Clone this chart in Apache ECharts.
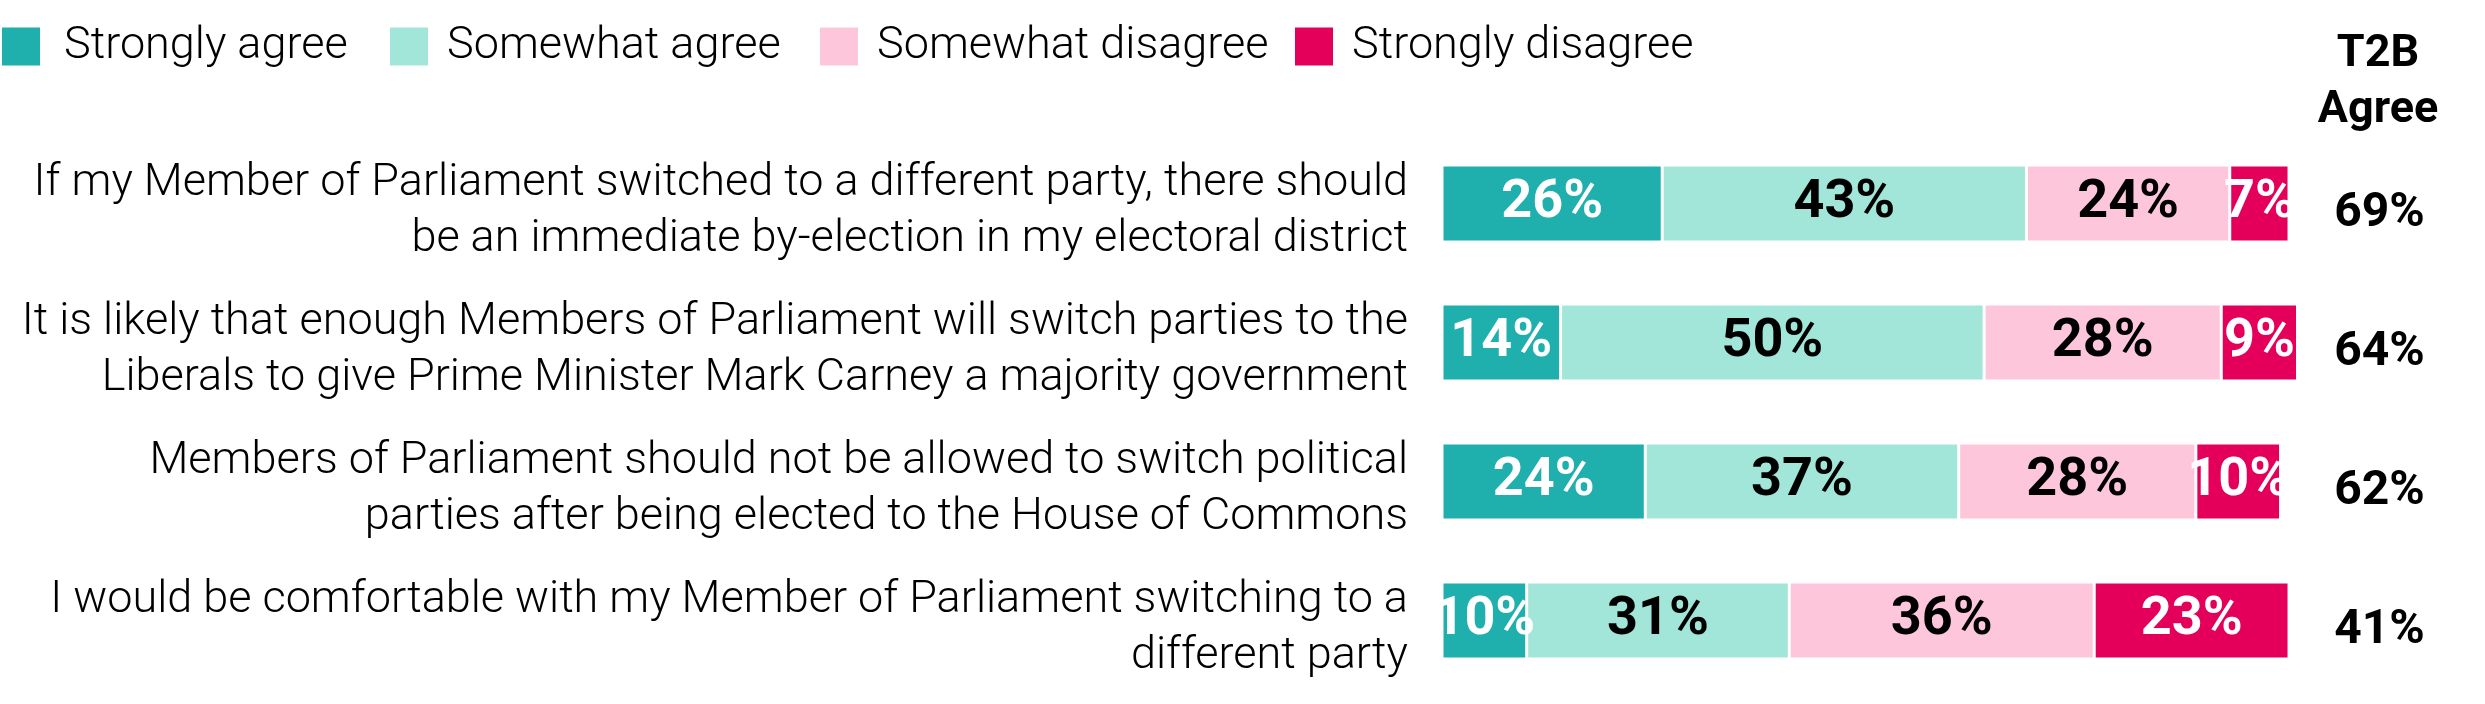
<!DOCTYPE html>
<html>
<head>
<meta charset="utf-8">
<script src="https://cdn.jsdelivr.net/npm/echarts@6/dist/echarts.min.js"></script>
<style>
  html, body { margin: 0; padding: 0; background: #fff; }
  #chart { width: 2485px; height: 704px; }
</style>
</head>
<body>
<div id="chart"></div>
<script>
// statements, top to bottom
const statements = [
  'If my Member of Parliament switched to a different party, there should\nbe an immediate by-election in my electoral district',
  'It is likely that enough Members of Parliament will switch parties to the\nLiberals to give Prime Minister Mark Carney a majority government',
  'Members of Parliament should not be allowed to switch political\nparties after being elected to the House of Commons',
  'I would be comfortable with my Member of Parliament switching to a\ndifferent party'
];

const stronglyAgree = [26, 14, 24, 10];
const somewhatAgree = [43, 50, 37, 31];
const somewhatDisagree = [24, 28, 28, 36];
const stronglyDisagree = [7, 9, 10, 23];
const t2bAgree = [69, 64, 62, 41];

const seriesNames = ['Strongly agree', 'Somewhat agree', 'Somewhat disagree', 'Strongly disagree'];
const seriesData = [stronglyAgree, somewhatAgree, somewhatDisagree, stronglyDisagree];
const colors = ['#1fafad', '#a1e6d9', '#fec6db', '#e4005a'];
const labelColors = ['#fff', '#000', '#000', '#fff'];

const FONT = 'Roboto, "Noto Sans", sans-serif';

// legend entries are spaced unevenly in the original, so one legend per entry
const legendLeft = [0, 388, 818, 1293];

const chart = echarts.init(document.getElementById('chart'));

const option = {
  animation: false,
  legend: seriesNames.map((name, i) => ({
    left: legendLeft[i],
    top: 24,
    padding: 0,
    icon: 'rect',
    itemWidth: 40,
    itemHeight: 40,
    textStyle: {
      fontFamily: FONT,
      fontWeight: 300,
      fontSize: 45,
      color: '#000',
      padding: [0, 0, 0, i === 0 ? 18 : 13]
    },
    data: [name]
  })),
  grid: { left: 1442, right: 187.5, top: 134, height: 556 },
  xAxis: { type: 'value', min: 0, max: 101, show: false },
  yAxis: [
    {
      type: 'category',
      inverse: true,
      data: statements,
      axisLine: { show: false },
      axisTick: { show: false },
      axisLabel: {
        margin: 34,
        fontFamily: FONT,
        fontWeight: 300,
        fontSize: 45,
        lineHeight: 56,
        color: '#000',
        align: 'right',
        // empty spacer line nudges the two text lines down a little
        formatter: v => '{e| }\n' + v,
        rich: { e: { fontSize: 10, lineHeight: 16 } }
      }
    },
    {
      type: 'category',
      inverse: true,
      position: 'right',
      data: t2bAgree.map(v => v + '%'),
      axisLine: { show: false },
      axisTick: { show: false },
      axisLabel: {
        margin: 82,
        align: 'center',
        fontFamily: FONT,
        fontWeight: 'bold',
        fontSize: 48,
        lineHeight: 56,
        color: '#000',
        formatter: v => '{e| }\n' + v,
        rich: { e: { fontSize: 10, lineHeight: 20 } }
      }
    }
  ],
  graphic: [{
    type: 'text',
    x: 2378,
    y: 27,
    style: {
      text: 'T2B\nAgree',
      textAlign: 'center',
      fontFamily: FONT,
      fontWeight: 'bold',
      fontSize: 45,
      lineHeight: 56,
      fill: '#000'
    }
  }],
  series: seriesNames.map((name, i) => ({
    name: name,
    type: 'bar',
    stack: 'total',
    barWidth: 77,
    data: seriesData[i],
    itemStyle: { color: colors[i], borderColor: '#fff', borderWidth: 1.5 },
    label: {
      show: true,
      position: 'inside',
      formatter: '{c}%',
      fontFamily: FONT,
      fontWeight: 'bold',
      fontSize: 54,
      color: labelColors[i]
    }
  }))
};

chart.setOption(option);
window.addEventListener('resize', () => chart.resize());
</script>
</body>
</html>
